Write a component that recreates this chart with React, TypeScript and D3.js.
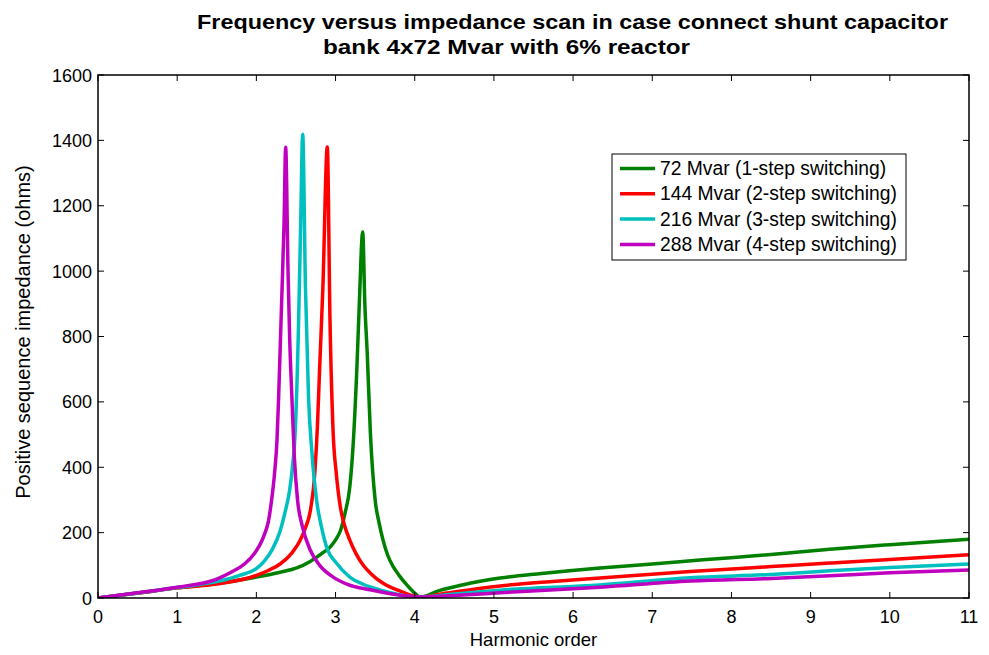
import React from "react";
import * as d3 from "d3";

const xTicks = [0, 1, 2, 3, 4, 5, 6, 7, 8, 9, 10, 11];
const yTicks = [0, 200, 400, 600, 800, 1000, 1200, 1400, 1600];

const seriesNames = [
  "72 Mvar (1-step switching)",
  "144 Mvar (2-step switching)",
  "216 Mvar (3-step switching)",
  "288 Mvar (4-step switching)",
];
const seriesColors = ["#008000", "#ff0000", "#00bfbf", "#bf00bf"];

const greenH = [0, 0.5, 1, 1.5, 2, 2.3, 2.51, 2.68, 2.85, 2.94, 3.0, 3.06, 3.12, 3.18, 3.22, 3.27, 3.3, 3.343, 3.37, 3.4, 3.44, 3.5, 3.55, 3.6, 3.66, 3.73, 3.8, 3.9, 4.0, 4.07, 4.3, 4.6, 5.08, 5.6, 6.34, 7, 7.6, 8.5, 9.24, 10, 11];
const greenZ = [0, 15, 31, 44, 64, 79, 92, 112, 140, 158, 178, 205, 260, 340, 460, 707, 900, 1120, 900, 750, 505, 300, 230, 177, 130, 95, 70, 40, 15, 3, 22, 40, 61, 75, 92, 104, 116, 133, 149, 163, 180];

const redH = [0, 0.5, 1, 1.5, 2, 2.15, 2.3, 2.45, 2.55, 2.62, 2.68, 2.74, 2.77, 2.8, 2.84, 2.896, 2.93, 2.97, 3.01, 3.06, 3.11, 3.18, 3.26, 3.35, 3.44, 3.6, 3.81, 4.07, 4.4, 5.08, 5.7, 6.34, 7.48, 8.5, 9.24, 10, 11];
const redZ = [0, 15, 31, 43, 69, 84, 104, 138, 175, 215, 265, 390, 520, 707, 950, 1380, 850, 505, 380, 279, 225, 177, 135, 100, 76, 45, 22, 3, 15, 37, 50, 61, 81, 96, 107, 118, 132];

const cyanH = [0, 0.5, 1, 1.5, 1.8, 2, 2.1, 2.2, 2.3, 2.36, 2.42, 2.46, 2.49, 2.53, 2.56, 2.585, 2.62, 2.66, 2.7, 2.76, 2.82, 2.9, 3.0, 3.18, 3.35, 3.56, 4.07, 4.5, 5.08, 6.34, 7.48, 8.5, 9.24, 10, 11];
const cyanZ = [0, 15, 32, 50, 70, 90, 113, 148, 205, 260, 330, 410, 505, 810, 1150, 1419, 950, 606, 450, 300, 220, 147, 110, 64, 42, 25, 3, 12, 24, 40, 62, 72, 83, 93, 104];

const magentaH = [0, 0.5, 1, 1.5, 1.68, 1.85, 1.98, 2.07, 2.11, 2.15, 2.19, 2.23, 2.26, 2.28, 2.32, 2.35, 2.37, 2.4, 2.42, 2.45, 2.48, 2.52, 2.58, 2.68, 2.8, 2.97, 3.15, 3.44, 4.07, 4.5, 5.08, 6.34, 7.48, 8.5, 9.24, 10, 11];
const magentaZ = [0, 16, 33, 58, 79, 104, 138, 175, 200, 232, 295, 382, 480, 606, 912, 1150, 1379, 1000, 800, 606, 430, 300, 220, 147, 100, 64, 42, 25, 3, 8, 16, 33, 52, 60, 68, 77, 86];

const allH = [greenH, redH, cyanH, magentaH];
const allZ = [greenZ, redZ, cyanZ, magentaZ];

const W = 989;
const H = 655;
const left = 98;
const right = 969;
const top = 75;
const bottom = 598;
const font = "Liberation Sans, Arial, sans-serif";

export default function App() {
  const x = d3.scaleLinear().domain([0, 11]).range([left, right]);
  const y = d3.scaleLinear().domain([0, 1600]).range([bottom, top]);
  const line = d3
    .line<[number, number]>()
    .x((d) => x(d[0]))
    .y((d) => y(d[1]))
    .curve(d3.curveMonotoneX);

  const tickLen = 6;

  return (
    <svg
      width={W}
      height={H}
      style={{ position: "absolute", left: 0, top: 0, background: "#fff" }}
    >
      <rect x={0} y={0} width={W} height={H} fill="#fff" />
      <defs>
        <clipPath id="plotclip">
          <rect x={left} y={top - 2} width={right - left} height={bottom - top + 2} />
        </clipPath>
      </defs>
      <g clipPath="url(#plotclip)">
        {allH.map((hs, i) => (
          <path
            key={i}
            d={line(hs.map((h, j) => [h, allZ[i][j]] as [number, number])) || ""}
            fill="none"
            stroke={seriesColors[i]}
            strokeWidth={3.5}
            strokeLinejoin="round"
          />
        ))}
      </g>
      <rect
        x={left}
        y={top}
        width={right - left}
        height={bottom - top}
        fill="none"
        stroke="#000"
        strokeWidth={1.5}
      />
      {xTicks.map((t) => (
        <g key={"x" + t}>
          <line x1={x(t)} x2={x(t)} y1={bottom} y2={bottom - tickLen} stroke="#000" strokeWidth={1} />
          <line x1={x(t)} x2={x(t)} y1={top} y2={top + tickLen} stroke="#000" strokeWidth={1} />
          <text
            x={x(t)}
            y={bottom + 25}
            textAnchor="middle"
            fontFamily={font}
            fontSize={18}
            fill="#000"
          >
            {t}
          </text>
        </g>
      ))}
      {yTicks.map((t) => (
        <g key={"y" + t}>
          <line x1={left} x2={left + tickLen} y1={y(t)} y2={y(t)} stroke="#000" strokeWidth={1} />
          <line x1={right} x2={right - tickLen} y1={y(t)} y2={y(t)} stroke="#000" strokeWidth={1} />
          <text
            x={left - 6}
            y={y(t) + 6.5}
            textAnchor="end"
            fontFamily={font}
            fontSize={18}
            fill="#000"
          >
            {t}
          </text>
        </g>
      ))}
      <text
        x={(left + right) / 2}
        y={646}
        textAnchor="middle"
        fontFamily={font}
        fontSize={18.5}
        fill="#000"
      >
        Harmonic order
      </text>
      <text
        transform={`translate(30, 332) rotate(-90)`}
        textAnchor="middle"
        fontFamily={font}
        fontSize={20}
        fill="#000"
      >
        Positive sequence impedance (ohms)
      </text>
      <text
        x={197}
        y={29}
        fontFamily="Liberation Sans Narrow, Arial Narrow, Liberation Sans, Arial, sans-serif"
        fontWeight="bold"
        fontSize={21}
        textLength={751}
        lengthAdjust="spacingAndGlyphs"
        fill="#000"
      >
        Frequency versus impedance scan in case connect shunt capacitor
      </text>
      <text
        x={323}
        y={54}
        fontFamily="Liberation Sans Narrow, Arial Narrow, Liberation Sans, Arial, sans-serif"
        fontWeight="bold"
        fontSize={21}
        textLength={367}
        lengthAdjust="spacingAndGlyphs"
        fill="#000"
      >
        bank 4x72 Mvar with 6% reactor
      </text>
      <rect x={612} y={154} width={294} height={106} fill="#fff" stroke="#000" strokeWidth={1} />
      {seriesNames.map((n, i) => {
        const cy = 168.5 + i * 25.3;
        return (
          <g key={n}>
            <line x1={620} x2={655} y1={cy} y2={cy} stroke={seriesColors[i]} strokeWidth={3.5} />
            <text x={660} y={cy + 6.5} fontFamily={font} fontSize={19.3} fill="#000">
              {n}
            </text>
          </g>
        );
      })}
    </svg>
  );
}
